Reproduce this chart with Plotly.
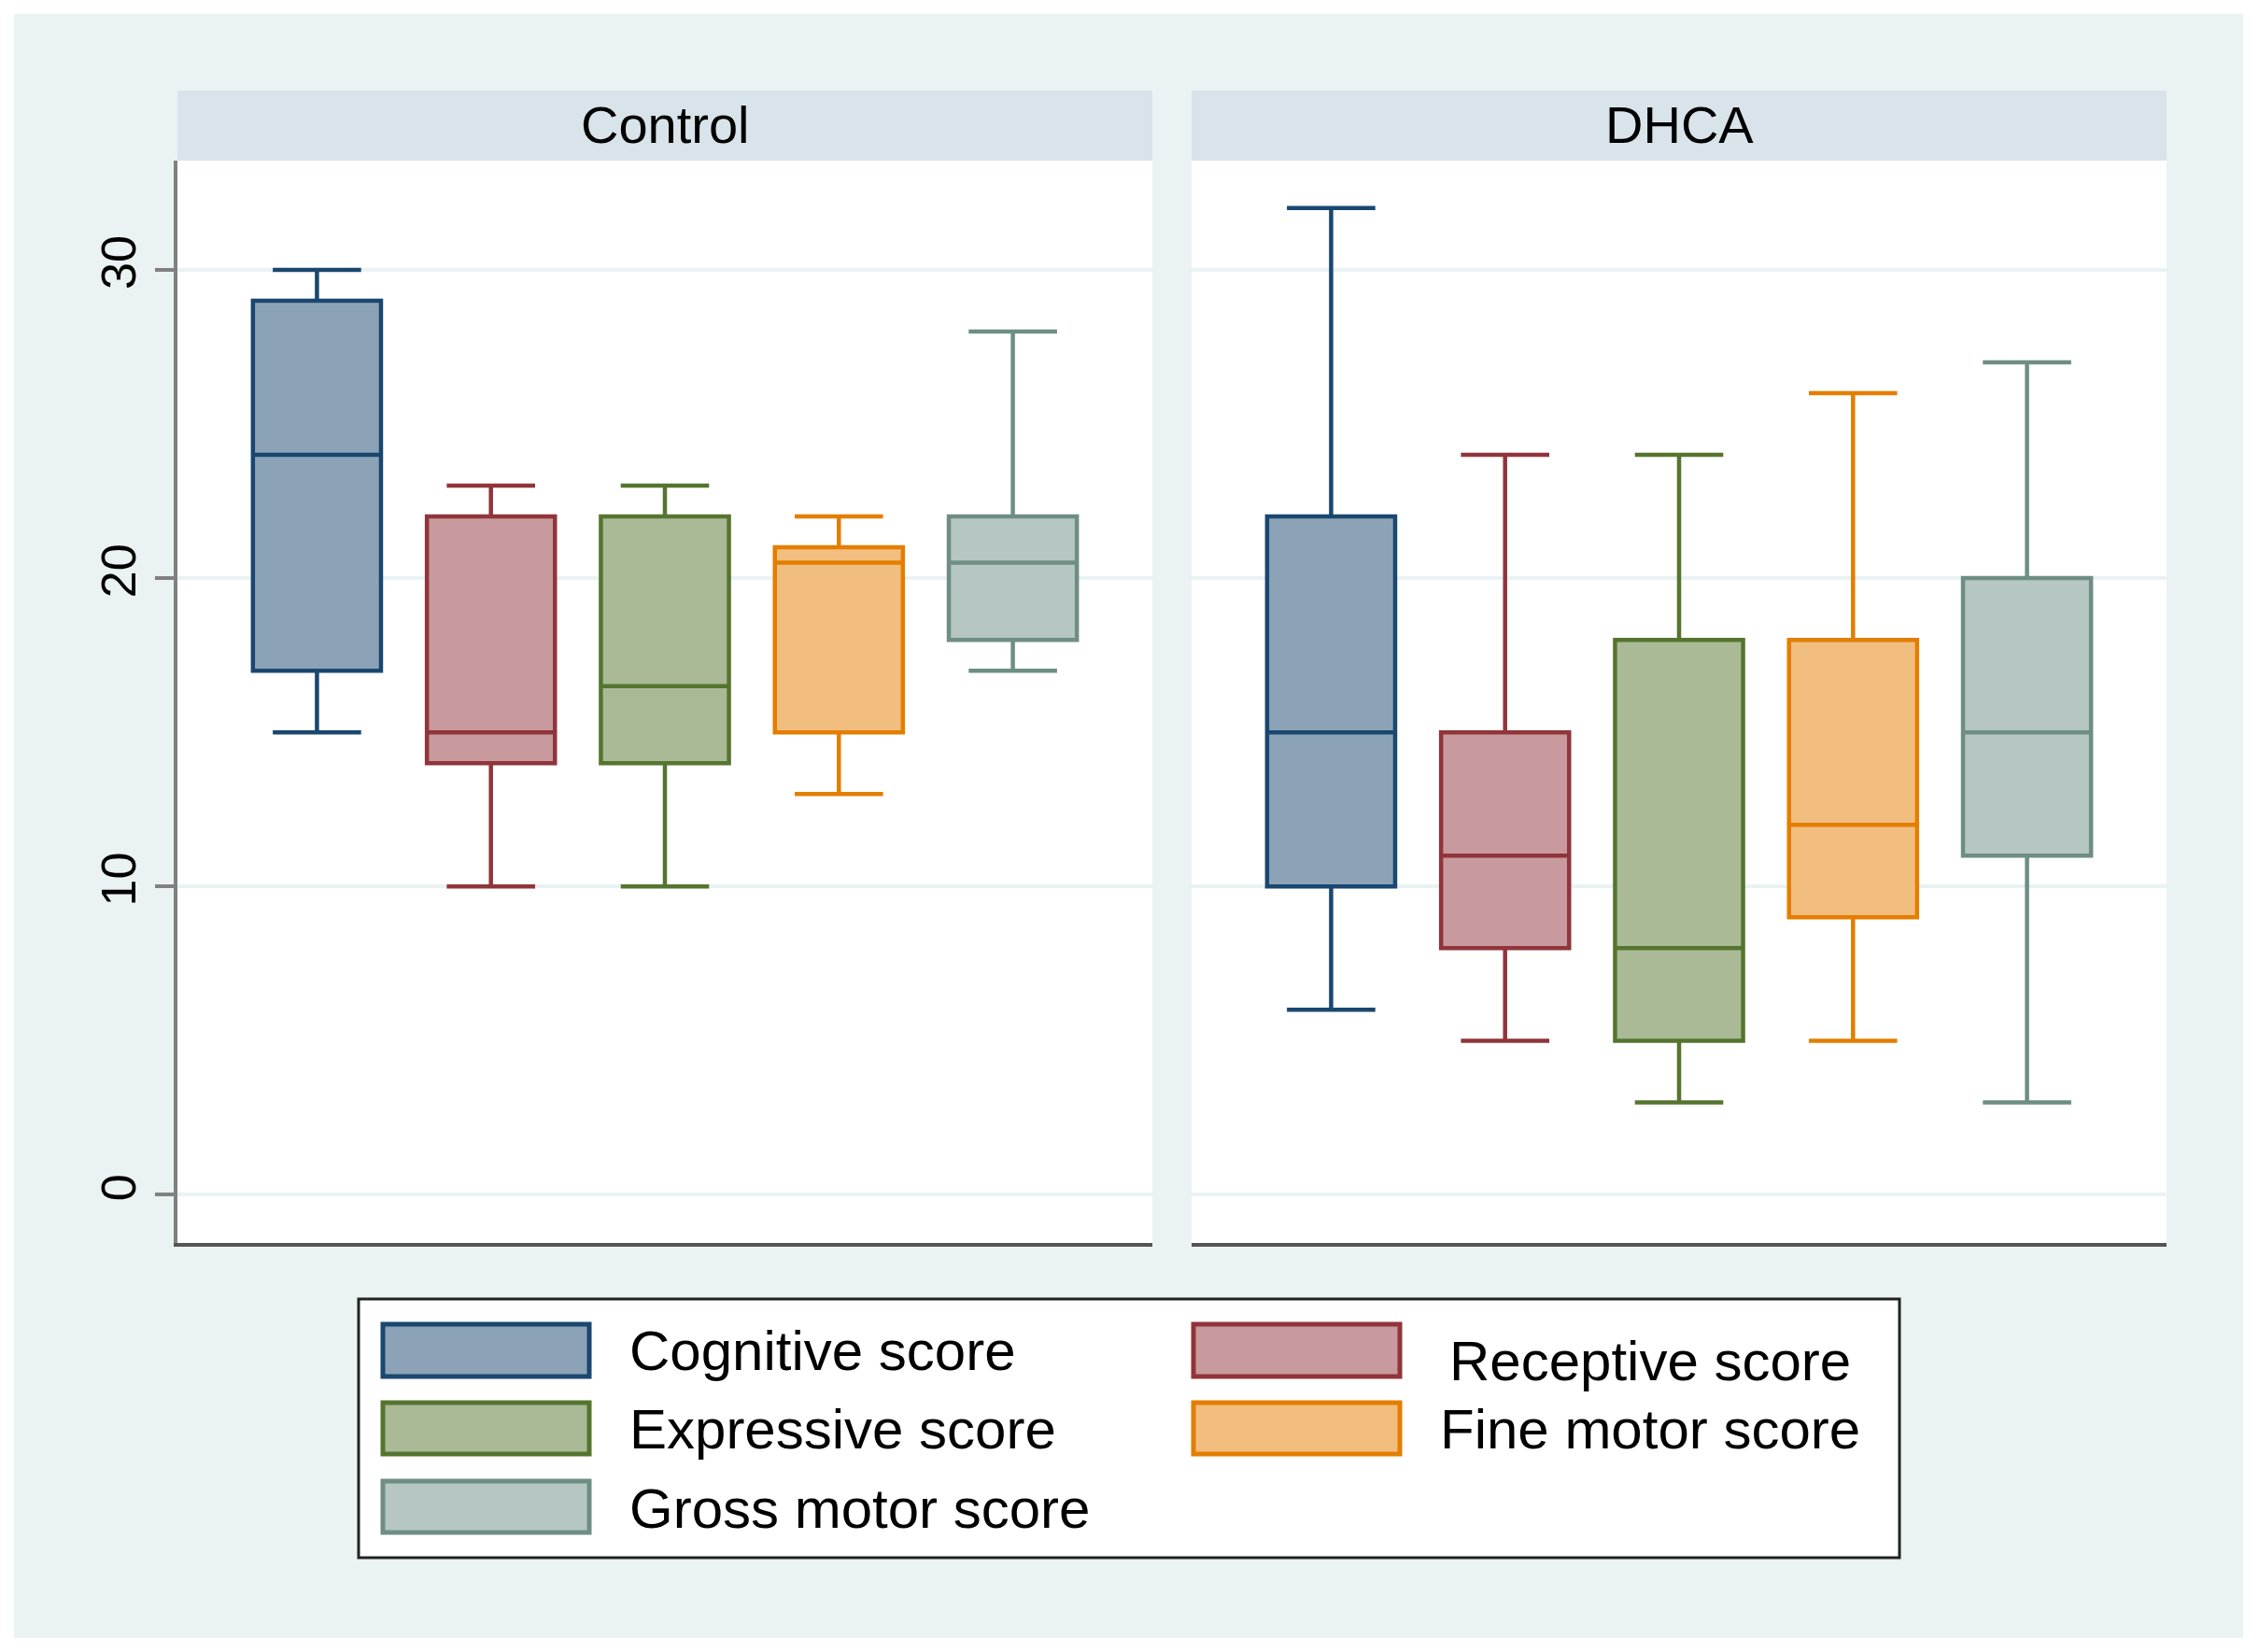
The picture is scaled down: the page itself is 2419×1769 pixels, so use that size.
import plotly.graph_objects as go

# ---------------- data ----------------
groups = ["Control", "DHCA"]
measures = ["Cognitive score", "Receptive score", "Expressive score",
            "Fine motor score", "Gross motor score"]

# per group: one value per measure
lower_whisker = {"Control": [15, 10, 10, 13, 17],
                 "DHCA":    [6, 5, 3, 5, 3]}
q1_vals = {"Control": [17, 14, 14, 15, 18],
           "DHCA":    [10, 8, 5, 9, 11]}
median_vals = {"Control": [24, 15, 16.5, 20.5, 20.5],
               "DHCA":    [15, 11, 8, 12, 15]}
q3_vals = {"Control": [29, 22, 22, 21, 22],
           "DHCA":    [22, 15, 18, 18, 20]}
upper_whisker = {"Control": [30, 23, 23, 22, 28],
                 "DHCA":    [32, 24, 24, 26, 27]}

y_ticks = [0, 10, 20, 30]

# ---------------- styling ----------------
line_colors = ["#1A476F", "#90353B", "#55752F", "#E37E00", "#6E8E84"]


def blend(hexcol, a=0.5):
    h = hexcol.lstrip("#")
    r, g, b = int(h[0:2], 16), int(h[2:4], 16), int(h[4:6], 16)
    r = round(r * a + 255 * (1 - a))
    g = round(g * a + 255 * (1 - a))
    b = round(b * a + 255 * (1 - a))
    return f"rgb({r},{g},{b})"


fill_colors = [blend(c) for c in line_colors]

W, H = 2419, 1769
ML, MR, MT, MB = 190, 99, 172, 438
PW = W - ML - MR
PH = H - MT - MB


def px(X):
    return (X - ML) / PW


def py(Y):
    return (H - MB - Y) / PH


FONT = "Liberation Sans, Arial, Helvetica, sans-serif"
BG = "#EAF2F3"
STRIP = "#D9E4EA"

fig = go.Figure()

axis_names = {"Control": "x", "DHCA": "x2"}
for g in groups:
    for i, m in enumerate(measures):
        fig.add_trace(go.Box(
            x=[i + 1],
            q1=[q1_vals[g][i]],
            median=[median_vals[g][i]],
            q3=[q3_vals[g][i]],
            lowerfence=[lower_whisker[g][i]],
            upperfence=[upper_whisker[g][i]],
            name=m,
            width=0.736,
            whiskerwidth=0.69,
            fillcolor=fill_colors[i],
            line=dict(color=line_colors[i], width=4.5),
            boxpoints=False,
            hoverinfo="skip",
            showlegend=False,
            xaxis=axis_names[g],
            yaxis="y",
        ))

gap_left = px(1234)
gap_right = px(1276)

xcommon = dict(range=[0.198, 5.802], showticklabels=False, showgrid=False,
               zeroline=False, showline=True, linecolor="#555555",
               linewidth=4, ticks="", fixedrange=True)

fig.update_layout(
    width=W, height=H,
    margin=dict(l=ML, r=MR, t=MT, b=MB, pad=0),
    paper_bgcolor=BG,
    plot_bgcolor="white",
    font=dict(family=FONT, color="black"),
    showlegend=False,
    xaxis=dict(domain=[0, gap_left], anchor="y", **xcommon),
    xaxis2=dict(domain=[gap_right, 1], anchor="y", **xcommon),
    yaxis=dict(range=[-1.56, 33.54], tickvals=y_ticks,
               ticktext=[str(v) for v in y_ticks],
               tickangle=-90, ticks="outside", ticklen=20, tickwidth=4,
               tickcolor="#808080", tickfont=dict(size=52, family=FONT, color="black"),
               showline=True, linecolor="#808080", linewidth=4,
               showgrid=True, gridcolor=BG, gridwidth=4,
               zeroline=False, anchor="x", fixedrange=True),
)

shapes = []
annotations = []

# white outer frame
shapes += [
    dict(type="rect", xref="paper", yref="paper", x0=px(0), x1=px(W), y0=py(0), y1=py(15),
         fillcolor="white", line=dict(width=0), layer="above"),
    dict(type="rect", xref="paper", yref="paper", x0=px(0), x1=px(W), y0=py(1754), y1=py(H),
         fillcolor="white", line=dict(width=0), layer="above"),
    dict(type="rect", xref="paper", yref="paper", x0=px(0), x1=px(15), y0=py(0), y1=py(H),
         fillcolor="white", line=dict(width=0), layer="above"),
    dict(type="rect", xref="paper", yref="paper", x0=px(2402), x1=px(W), y0=py(0), y1=py(H),
         fillcolor="white", line=dict(width=0), layer="above"),
]

# strip headers
strip_x = {"Control": (0, gap_left), "DHCA": (gap_right, 1)}
for g in groups:
    x0, x1 = strip_x[g]
    shapes.append(dict(type="rect", xref="paper", yref="paper", x0=x0, x1=x1,
                       y0=py(172), y1=py(97), fillcolor=STRIP, line=dict(width=0),
                       layer="above"))
    annotations.append(dict(text=g, xref="paper", yref="paper", x=(x0 + x1) / 2,
                            y=py(134), xanchor="center", yanchor="middle",
                            showarrow=False, font=dict(size=56, family=FONT, color="black")))

# legend box
shapes.append(dict(type="rect", xref="paper", yref="paper", x0=px(384), x1=px(2034),
                   y0=py(1668), y1=py(1391), fillcolor="white",
                   line=dict(color="#222222", width=3), layer="above"))

# legend item placements (col swatch x, swatch y0,y1, text x, text y)
legend_pos = [
    (408, 1416, 1476, 672, 1446),
    (1276, 1416, 1476, 1550, 1457),
    (408, 1500, 1559, 672, 1530),
    (1276, 1500, 1559, 1540, 1530),
    (408, 1584, 1643, 672, 1615),
]
for i, m in enumerate(measures):
    sx, sy0, sy1, tx, ty = legend_pos[i]
    shapes.append(dict(type="rect", xref="paper", yref="paper",
                       x0=px(sx + 2), x1=px(sx + 223), y0=py(sy1 - 2), y1=py(sy0 + 2),
                       fillcolor=fill_colors[i], line=dict(color=line_colors[i], width=5),
                       layer="above"))
    annotations.append(dict(text=m, xref="paper", yref="paper", x=px(tx), y=py(ty),
                            xanchor="left", yanchor="middle", showarrow=False,
                            font=dict(size=60, family=FONT, color="black")))

fig.update_layout(shapes=shapes, annotations=annotations)

fig.write_html("out.html", config={"displayModeBar": False},
               post_script="document.body.style.margin='0px';")
